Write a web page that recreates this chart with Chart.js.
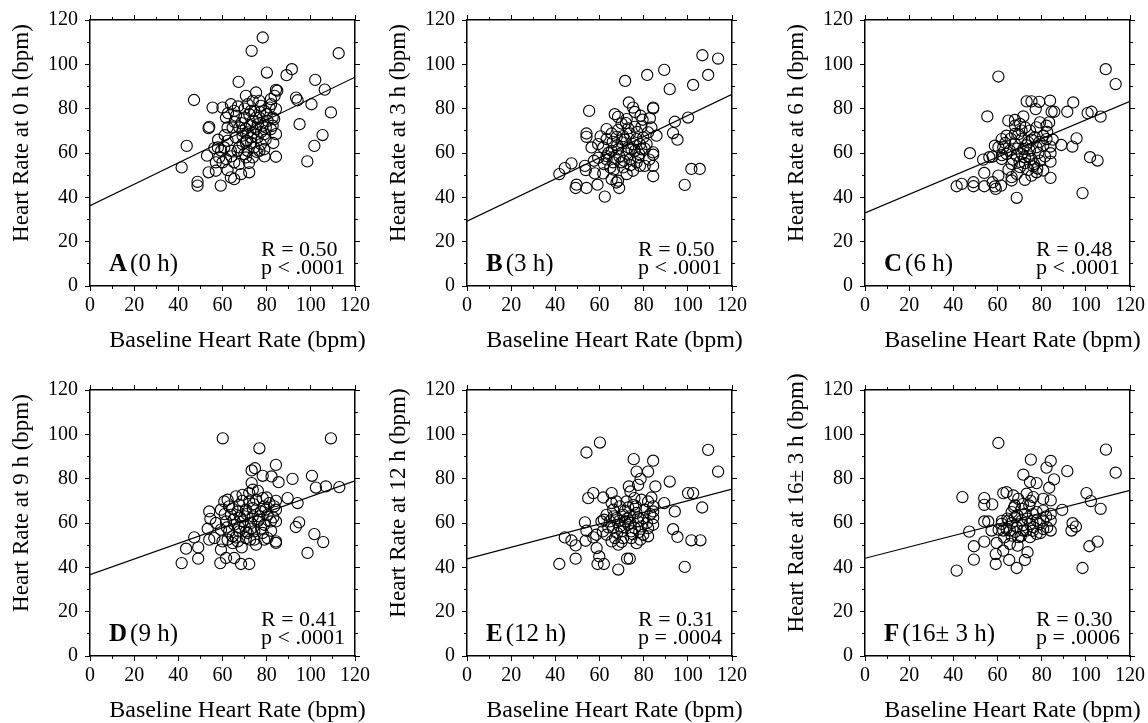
<!DOCTYPE html>
<html><head><meta charset="utf-8">
<script src="https://cdn.jsdelivr.net/npm/chart.js@4.4.0/dist/chart.umd.min.js"></script>
<style>
html,body{margin:0;padding:0;background:#fff;}
body{width:1148px;height:723px;overflow:hidden;position:relative;}
canvas{position:absolute;}
</style></head>
<body>
<canvas id="cA" width="373" height="356" style="left:0px;top:0px"></canvas>
<canvas id="cB" width="373" height="356" style="left:377px;top:0px"></canvas>
<canvas id="cC" width="373" height="356" style="left:775px;top:0px"></canvas>
<canvas id="cD" width="373" height="356" style="left:0px;top:370px"></canvas>
<canvas id="cE" width="373" height="356" style="left:377px;top:370px"></canvas>
<canvas id="cF" width="373" height="356" style="left:775px;top:370px"></canvas>
<script>
// ---- data: [baseline HR, HR at time point] ----
const pointsA = [[78.2,112.1],[73.2,106.1],[112.6,105.0],[80.1,96.3],[89.0,95.1],[91.4,97.8],[102.0,93.0],[106.3,88.6],[84.2,88.5],[84.8,88.1],[83.6,85.8],[67.3,92.1],[47.1,83.9],[93.3,85.0],[94.0,83.8],[100.3,82.0],[109.1,78.3],[94.9,73.0],[105.3,68.1],[101.6,63.2],[98.4,56.2],[84.2,58.3],[43.8,63.2],[41.5,53.5],[48.7,47.0],[48.7,45.3],[59.2,45.3],[53.7,51.3],[65.3,48.2],[68.4,50.5],[72.1,51.3],[62.3,52.3],[57.0,52.0],[55.5,80.5],[60.0,80.5],[54.0,71.8],[53.7,71.2],[53.0,58.8],[56.3,62.2],[58.5,58.0],[60.0,55.8],[57.0,55.8],[62.3,65.5],[61.6,76.0],[63.8,82.0],[65.3,79.0],[64.6,71.5],[67.6,71.5],[66.1,67.0],[69.1,64.0],[66.8,61.0],[63.8,61.0],[60.8,62.5],[67.6,55.0],[69.9,59.5],[70.6,85.8],[75.2,87.3],[73.7,83.5],[71.4,82.0],[76.7,83.5],[77.4,81.3],[74.4,79.0],[72.1,77.5],[69.9,76.0],[73.7,74.5],[76.7,76.0],[79.0,79.0],[81.3,80.5],[84.2,79.8],[82.7,76.0],[80.4,74.5],[78.2,72.3],[75.2,70.8],[71.4,69.3],[72.9,67.0],[75.9,67.0],[78.9,68.5],[81.9,70.8],[84.2,68.5],[77.4,64.0],[74.4,62.5],[71.4,61.0],[73.7,58.0],[78.9,61.7],[70.6,58.0],[69.1,67.8],[62.3,71.5],[66.1,76.8],[83.4,75.3],[82.7,72.3],[79.6,71.5],[81.9,84.3],[75.2,76.0],[72.9,79.0],[70.6,64.8],[57.9,62.5],[59.4,61.0],[61.6,57.3],[65.3,55.8],[63.8,49.0],[76.7,61.0],
  [68.5,73.5],[70.5,71.0],[72.5,72.5],[74.0,69.0],[76.0,73.0],[77.5,69.5],[79.5,66.0],[71.0,65.5],[73.0,64.5],[75.5,60.5],[69.0,70.0],[65.5,74.0],[67.0,81.0],[62.5,78.0],[80.0,77.5],[82.0,82.0],[77.0,78.5],[70.0,80.0],[64.0,58.5],[67.5,62.5],[72.0,55.5],[61.0,68.0],[83.0,64.5],[79.0,58.5],[58.0,66.0]];
const pointsB = [[106.6,104.1],[113.7,102.6],[89.3,97.5],[81.6,95.2],[109.2,95.2],[71.6,92.5],[102.4,90.7],[91.8,88.8],[73.3,82.8],[75.2,80.5],[84.3,80.5],[84.3,80.1],[55.3,79.0],[66.9,77.5],[68.4,76.3],[78.6,76.8],[82.8,75.7],[72.3,75.3],[94.1,74.1],[100.1,76.0],[63.2,70.8],[54.1,68.8],[54.1,67.3],[93.3,69.0],[95.3,66.0],[85.8,67.8],[76.0,71.8],[79.0,71.8],[70.0,73.3],[65.5,68.8],[67.8,67.3],[70.7,67.6],[73.7,68.8],[76.8,66.3],[79.8,67.0],[82.0,69.3],[83.5,71.5],[63.2,66.3],[56.4,62.5],[61.7,62.5],[65.5,61.0],[68.4,61.7],[73.0,62.5],[76.0,61.0],[79.0,61.7],[84.3,60.3],[84.3,59.2],[59.4,57.8],[63.2,57.1],[67.0,57.8],[70.0,55.8],[73.8,57.2],[77.5,58.0],[80.5,54.2],[84.3,54.2],[47.3,55.3],[44.3,53.2],[41.8,50.5],[53.4,54.2],[53.8,52.3],[57.9,50.8],[61.7,50.8],[64.9,53.5],[65.5,48.2],[68.4,47.5],[72.3,50.5],[75.2,52.0],[78.3,54.2],[84.3,49.5],[101.6,52.8],[105.4,52.8],[98.6,45.6],[49.6,45.7],[49.2,44.2],[54.1,44.2],[59.1,45.7],[62.4,40.3],[68.9,44.2],[67.7,46.7],[59.4,64.0],[70.0,64.8],[72.3,59.7],[75.2,64.0],[78.3,64.0],[81.3,64.0],[73.0,71.1],[63.2,58.6],[66.2,55.8],[70.7,53.5],[76.8,55.8],
  [66.0,65.0],[68.0,63.5],[71.5,66.0],[74.5,61.5],[77.0,69.5],[80.5,62.0],[69.0,58.5],[71.0,56.5],[74.0,54.5],[64.0,60.0],[62.0,55.0],[78.0,59.5],[82.5,57.0],[68.5,70.5],[72.0,73.5],[60.5,67.5],[66.5,52.5],[79.5,75.0],[76.0,78.5],[57.5,56.5]];
const pointsC = [[109.0,97.8],[113.5,91.1],[60.4,94.5],[78.9,83.1],[73.2,83.3],[75.4,83.3],[83.8,83.6],[94.3,82.8],[77.3,79.8],[84.5,78.6],[85.7,78.6],[91.6,78.6],[100.8,78.0],[102.6,78.6],[106.7,76.4],[55.4,76.5],[64.9,74.6],[67.9,74.9],[71.7,76.5],[70.2,73.1],[77.7,71.6],[82.2,72.3],[83.4,73.8],[74.7,70.1],[67.9,68.6],[64.1,67.8],[61.9,66.3],[95.8,66.6],[88.9,63.6],[93.9,62.9],[101.9,58.1],[105.3,56.6],[70.9,66.3],[73.9,64.8],[76.9,67.1],[80.7,67.8],[82.2,66.3],[67.9,64.1],[65.6,61.1],[62.6,62.6],[58.8,63.3],[60.4,62.6],[71.7,61.8],[74.7,61.1],[77.7,62.6],[80.7,63.3],[84.0,62.9],[84.0,59.9],[47.5,59.9],[53.5,57.0],[56.3,58.1],[57.8,58.4],[61.9,57.3],[64.1,59.6],[68.7,58.8],[72.4,58.1],[75.4,57.3],[79.2,56.6],[84.0,56.1],[66.4,55.1],[70.2,53.6],[73.9,52.4],[77.7,51.3],[80.7,52.1],[54.0,51.0],[60.4,49.8],[66.4,49.1],[68.7,50.6],[72.4,47.9],[75.4,49.8],[84.0,48.8],[41.5,45.0],[43.8,46.1],[49.1,46.8],[49.1,45.0],[54.0,45.0],[57.8,46.8],[58.8,44.9],[61.6,45.3],[59.2,43.8],[66.4,47.6],[68.7,39.8],[98.5,41.9],[67.9,72.3],[70.9,70.1],[79.2,73.8],[72.4,55.4],[76.2,53.9],
  [69.0,62.0],[71.0,59.5],[73.0,63.5],[75.5,66.0],[78.5,60.0],[81.5,58.5],[67.0,57.0],[70.0,56.0],[74.0,58.5],[76.5,55.0],[63.5,64.5],[66.0,66.5],[79.0,65.0],[82.5,69.5],[69.5,68.5],[72.5,71.5],[62.0,59.0],[78.0,53.0],[65.0,52.5],[85.0,66.0]];
const pointsD = [[60.1,98.2],[109.1,98.2],[76.7,93.7],[74.7,84.7],[73.2,83.7],[84.2,86.2],[78.2,81.3],[82.2,81.0],[85.4,78.4],[91.7,79.9],[100.5,81.3],[102.3,76.0],[106.8,76.5],[112.9,76.2],[73.2,78.0],[89.5,71.2],[94.0,69.0],[84.2,70.0],[84.2,66.0],[84.2,60.7],[84.2,51.0],[84.2,51.7],[94.7,60.3],[93.2,58.2],[101.6,55.0],[105.6,51.4],[98.5,46.5],[54.0,65.2],[54.5,61.9],[57.0,60.0],[53.3,57.4],[47.2,53.5],[43.5,48.4],[49.0,49.0],[49.0,43.9],[41.5,41.9],[59.0,41.9],[61.6,44.2],[65.3,44.2],[68.4,41.5],[72.1,41.5],[59.3,48.0],[60.0,51.7],[62.3,52.5],[64.6,54.0],[68.7,49.0],[66.9,51.7],[56.3,53.2],[54.0,52.5],[60.8,69.7],[59.3,66.0],[63.0,67.5],[66.1,72.0],[69.1,72.7],[72.1,73.5],[73.7,75.0],[75.2,70.5],[78.2,71.2],[81.2,69.0],[83.4,67.5],[63.8,63.7],[66.8,65.2],[70.6,66.0],[73.7,66.7],[77.4,65.2],[80.4,63.7],[61.6,60.7],[65.3,59.2],[69.1,60.7],[72.9,60.0],[75.9,60.7],[78.9,59.2],[81.9,60.7],[59.3,57.0],[63.0,56.2],[67.6,56.2],[71.4,55.5],[74.4,56.2],[78.2,55.5],[80.4,53.2],[70.6,53.2],[74.4,52.5],[75.2,50.2],[78.9,52.5],[72.1,69.7],[69.9,63.0],[76.7,63.0],[73.7,63.0],[67.6,68.2],[62.3,70.5],[78.9,67.5],[64.6,50.9],[70.6,56.2],
  [68.0,62.5],[71.0,64.0],[74.0,68.5],[76.5,61.5],[79.5,66.0],[65.0,61.5],[67.5,58.0],[70.0,58.5],[73.0,57.5],[77.5,57.5],[82.0,56.5],[62.0,58.0],[64.5,66.5],[69.0,70.0],[76.0,74.5],[80.0,71.5],[72.5,52.5],[66.0,53.5],[61.0,64.0],[83.0,62.5]];
const pointsE = [[60.2,96.3],[54.1,91.8],[109.2,93.0],[113.7,83.2],[75.5,88.8],[84.3,88.1],[76.8,83.2],[82.0,83.2],[78.6,79.9],[91.8,78.7],[85.3,76.5],[73.3,76.5],[77.5,77.2],[57.2,73.5],[54.9,71.2],[65.5,73.5],[61.7,71.5],[74.0,74.2],[100.1,73.5],[102.4,73.5],[83.5,71.5],[89.3,69.0],[106.5,67.0],[94.1,65.2],[53.4,60.3],[54.1,56.5],[44.3,53.5],[47.3,52.1],[49.2,49.9],[53.7,52.0],[57.2,53.5],[58.7,48.7],[59.9,44.9],[49.2,43.9],[41.8,41.5],[59.1,41.5],[62.0,41.5],[68.5,39.0],[72.5,43.9],[73.7,43.9],[93.3,57.2],[95.3,53.7],[101.6,52.2],[105.7,52.2],[98.6,40.2],[63.2,63.7],[66.2,66.0],[69.2,67.5],[72.2,69.7],[75.3,68.2],[79.0,70.5],[82.0,69.7],[84.3,67.5],[84.3,65.2],[84.3,62.2],[84.3,59.2],[82.0,54.0],[64.7,60.7],[67.7,62.2],[70.7,63.7],[73.8,63.0],[76.8,64.5],[79.8,62.2],[66.2,57.7],[69.2,58.5],[73.0,59.2],[76.0,57.7],[79.0,58.5],[82.0,57.7],[63.2,54.7],[65.5,51.7],[68.5,50.2],[70.7,53.2],[74.4,53.2],[76.8,50.9],[79.8,54.7],[61.5,56.2],[58.5,54.7],[70.0,56.2],[74.4,56.2],[77.5,60.7],[71.5,60.7],[67.7,69.7],[75.8,71.2],[60.9,60.7],[67.0,53.2],
  [66.5,63.0],[69.0,61.0],[71.5,65.5],[74.0,60.0],[77.5,62.5],[80.5,66.0],[68.0,55.5],[71.0,58.0],[75.0,55.0],[78.0,56.0],[81.5,60.0],[64.0,58.0],[62.0,61.5],[73.0,67.0],[76.5,67.5],[70.0,51.5],[78.5,52.5],[65.5,69.0],[83.0,64.0],[72.5,62.0]];
const pointsF = [[60.4,96.1],[109.1,93.1],[113.5,82.7],[75.1,88.6],[84.1,88.0],[82.2,85.0],[91.6,83.4],[71.7,81.8],[85.6,79.7],[74.7,78.5],[77.7,78.0],[83.4,75.9],[44.1,71.7],[54.0,71.2],[62.6,73.5],[64.1,73.9],[54.0,68.2],[57.6,68.4],[67.2,72.4],[100.3,73.5],[102.3,69.9],[106.7,66.4],[89.3,65.9],[84.1,70.2],[80.7,70.9],[76.2,71.7],[73.2,73.2],[94.0,59.9],[93.5,56.6],[95.5,58.4],[105.3,51.6],[101.6,49.5],[98.5,39.7],[47.2,56.1],[49.3,49.5],[49.3,43.5],[41.5,38.5],[54.0,51.6],[54.0,60.7],[55.8,60.7],[57.3,56.6],[59.6,51.0],[59.2,46.0],[59.2,41.5],[62.6,47.5],[65.3,43.3],[68.7,39.7],[72.4,43.3],[73.6,46.8],[69.1,49.8],[65.6,50.6],[61.9,59.6],[65.0,61.1],[66.4,64.9],[67.9,67.9],[70.9,66.4],[74.4,67.9],[77.7,64.9],[80.7,65.6],[84.1,64.1],[84.1,61.1],[84.1,56.6],[80.7,57.3],[77.7,55.1],[74.7,53.6],[71.7,56.6],[68.7,58.1],[65.6,56.6],[62.6,56.6],[67.9,62.6],[70.9,61.1],[74.7,59.6],[77.7,61.1],[72.4,64.1],[66.4,54.3],[69.4,53.6],[80.7,61.1],[69.4,70.9],[64.1,57.3],[76.2,58.1],
  [66.5,60.0],[69.0,63.5],[71.5,59.0],[73.5,62.0],[76.0,64.0],[79.0,59.5],[82.0,63.0],[68.0,56.0],[70.5,54.0],[73.0,56.5],[76.0,56.5],[79.5,55.5],[64.5,62.0],[62.0,61.0],[67.5,67.0],[71.5,68.5],[75.0,70.0],[63.0,53.5],[82.5,58.0],[60.5,57.0]];

// regression line: fitted HR at baseline 0 and at baseline 120
const fitA = [36.2, 94.2];
const fitB = [29.2, 86.5];
const fitC = [33.0, 83.3];
const fitD = [36.7, 79.0];
const fitE = [43.8, 75.3];
const fitF = [44.1, 74.7];

const letters = ['A','B','C','D','E','F'];
const timeLabels = ['(0 h)','(3 h)','(6 h)','(9 h)','(12 h)','(16\u00b1 3 h)'];
const yTitles = ['Heart Rate at 0 h (bpm)','Heart Rate at 3 h (bpm)','Heart Rate at 6 h (bpm)','Heart Rate at 9 h (bpm)','Heart Rate at 12 h (bpm)','Heart Rate at 16\u00b1 3 h (bpm)'];
const rTexts = ['R = 0.50','R = 0.50','R = 0.48','R = 0.41','R = 0.31','R = 0.30'];
const pTexts = ['p < .0001','p < .0001','p < .0001','p < .0001','p = .0004','p = .0006'];
const xTitle = 'Baseline Heart Rate (bpm)';
const axisMin = 0, axisMax = 120, majorStep = 20, minorStep = 10;

const FONT = "'Liberation Serif','Times New Roman',serif";

const panelText = {
  id: 'panelText',
  afterDraw(chart, args, o) {
    const ctx = chart.ctx, a = chart.chartArea;
    ctx.save();
    ctx.fillStyle = '#000';
    // y title
    ctx.save();
    ctx.translate(a.left - 68, a.top + 113);
    ctx.rotate(-Math.PI / 2);
    ctx.font = '23px ' + FONT;
    ctx.textAlign = 'center';
    ctx.textBaseline = 'middle';
    ctx.fillText(o.yTitle, 0, 0);
    ctx.restore();
    // x title
    ctx.font = '24px ' + FONT;
    ctx.textAlign = 'center';
    ctx.textBaseline = 'alphabetic';
    ctx.fillText(o.xTitle, (a.left + a.right) / 2 + 15, a.bottom + 61);
    // panel letter + time
    ctx.textAlign = 'left';
    ctx.font = 'bold 25px ' + FONT;
    ctx.fillText(o.letter, a.left + 19, a.bottom - 15);
    const w = ctx.measureText(o.letter).width;
    ctx.font = '25px ' + FONT;
    ctx.fillText(o.time, a.left + 19 + w + 3, a.bottom - 15);
    // stats
    ctx.font = '22px ' + FONT;
    ctx.fillText(o.r, a.left + 171, a.bottom - 30);
    ctx.fillText(o.p, a.left + 171, a.bottom - 12);
    ctx.restore();
  }
};

function axisCfg(axis, pos, step, tl, major, size, labels) {
  return {
    type: 'linear', axis: axis, position: pos, min: axisMin, max: axisMax, weight: major ? 1 : 0,
    ticks: {stepSize: step, display: labels, autoSkip: false, maxRotation: 0,
            font: {family: FONT, size: 20}, color: '#000', padding: axis === 'y' ? 7 : 3},
    grid: {drawOnChartArea: false, drawTicks: true, tickLength: tl, tickColor: '#000', tickWidth: 1, color: '#000'},
    border: {display: major, color: '#000', width: 1.5},
    afterFit: function(s) { if (axis === 'x') s.height = size; else s.width = size; }
  };
}

function makeScales() {
  return {
    x:   axisCfg('x', 'bottom', majorStep, 5, true, 70, true),
    xm:  axisCfg('x', 'bottom', minorStep, 3, false, 0, false),
    xt:  axisCfg('x', 'top', majorStep, 5, true, 20, false),
    xtm: axisCfg('x', 'top', minorStep, 3, false, 0, false),
    y:   axisCfg('y', 'left', majorStep, 5, true, 90, true),
    ym:  axisCfg('y', 'left', minorStep, 3, false, 0, false),
    yr:  axisCfg('y', 'right', majorStep, 5, true, 18, false),
    yrm: axisCfg('y', 'right', minorStep, 3, false, 0, false)
  };
}

const panels = [
  ['cA', pointsA, fitA], ['cB', pointsB, fitB], ['cC', pointsC, fitC],
  ['cD', pointsD, fitD], ['cE', pointsE, fitE], ['cF', pointsF, fitF]
];

panels.forEach(function(p, i) {
  new Chart(document.getElementById(p[0]), {
    type: 'scatter',
    data: {
      datasets: [
        {data: p[1].map(function(d){ return {x: d[0], y: d[1]}; }), xAxisID: 'x', yAxisID: 'y',
         pointRadius: 5.6, pointStyle: 'circle', pointBorderColor: '#000', pointBackgroundColor: 'rgba(0,0,0,0)',
         pointBorderWidth: 1.1, borderColor: '#000', backgroundColor: 'rgba(0,0,0,0)'},
        {data: [{x: axisMin, y: p[2][0]}, {x: axisMax, y: p[2][1]}], xAxisID: 'x', yAxisID: 'y',
         showLine: true, pointRadius: 0, borderColor: '#000', borderWidth: 1.2, fill: false}
      ]
    },
    options: {
      responsive: false, animation: false, devicePixelRatio: 1,
      layout: {padding: 0},
      plugins: {
        legend: {display: false}, tooltip: {enabled: false},
        panelText: {letter: letters[i], time: timeLabels[i], yTitle: yTitles[i], xTitle: xTitle, r: rTexts[i], p: pTexts[i]}
      },
      scales: makeScales()
    },
    plugins: [panelText]
  });
});
</script>
</body></html>
